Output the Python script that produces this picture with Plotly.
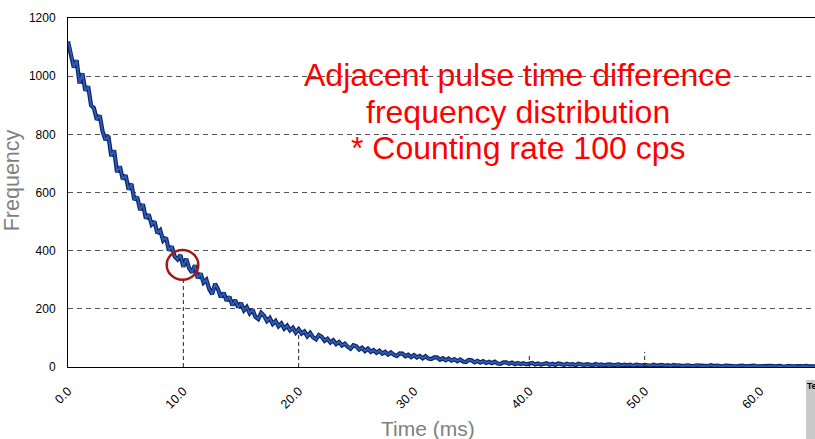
import plotly.graph_objects as go

# Frequency values, one every 0.25 ms from 0 to 65 ms
freq = [
    1119, 1080, 1030, 1055,
    975, 1010, 950, 965,
    900, 890, 850, 865,
    810, 780, 795, 725,
    745, 670, 690, 645,
    660, 610, 630, 575,
    585, 540, 560, 510,
    525, 490, 500, 460,
    470, 435, 445, 400,
    415, 380, 370, 385,
    345, 372, 340, 325,
    350, 305, 322, 290,
    300, 268, 250, 286,
    268, 240, 255, 228,
    242, 212, 230, 205,
    220, 195, 206, 185,
    198, 172, 165, 186,
    176, 158, 168, 148,
    158, 140, 150, 132,
    142, 126, 135, 118,
    130, 115, 122, 106,
    117, 102, 95, 110,
    104, 90, 97, 84,
    92, 79, 86, 74,
    80, 70, 63, 75,
    71, 60, 66, 55,
    63, 52, 58, 49,
    56, 46, 52, 43,
    50, 42, 38, 47,
    46, 37, 42, 34,
    41, 33, 38, 30,
    37, 29, 27, 33,
    33, 25, 30, 23,
    29, 22, 27, 20,
    26, 19, 17, 24,
    23, 16, 21, 15,
    20, 14, 18, 13,
    18, 12, 11, 16,
    16, 11, 15, 10,
    14, 10, 13, 9,
    11,
    14, 9, 12, 8, 11, 13, 8, 11, 7, 12, 10, 7, 11, 8, 10, 6, 11, 9, 7, 10,
    9, 6, 10, 7, 9, 5, 8, 9, 6, 7, 9, 5, 8, 6, 8, 4, 8, 7, 5, 7,
    7, 4, 8, 5, 6, 7, 4, 6, 3, 7, 5, 6, 3, 5, 6, 4, 3, 6, 5, 3,
    5, 3, 6, 3, 5, 4, 2, 5, 4, 3, 5, 2, 4, 5, 2, 4, 3, 5, 2, 3,
    4, 2, 3, 4, 2, 3, 4, 1, 3, 4, 2, 3, 1, 3, 2, 4, 2, 1, 3, 2,
]
time_step = 0.25
time_ms = [i * time_step for i in range(len(freq))]

x_ticks = [0, 10, 20, 30, 40, 50, 60]
x_tick_labels = ["0.0", "10.0", "20.0", "30.0", "40.0", "50.0", "60.0"]
y_ticks = [0, 200, 400, 600, 800, 1000, 1200]

# Marker lines (time, height) and highlight circle
marker_times = [10, 20, 40, 50]
marker_heights = [300, 122, 40, 52]
circle_center = (9.93, 351)

title_lines = [
    "Adjacent pulse time difference",
    "frequency distribution",
    "* Counting rate 100 cps",
]
title_y = [1004, 878, 753]

fig = go.Figure()
fig.add_trace(go.Scatter(x=time_ms, y=freq, mode="lines",
                         line=dict(color="#0B2566", width=4.2), hoverinfo="skip",
                         showlegend=False))
fig.add_trace(go.Scatter(x=time_ms, y=freq, mode="lines",
                         line=dict(color="#2F5DB5", width=1.8),
                         showlegend=False))

shapes = []
for t, h in zip(marker_times, marker_heights):
    shapes.append(dict(type="line", xref="x", yref="y", x0=t, x1=t, y0=0, y1=h,
                       line=dict(color="#222222", width=1, dash="4px,3px")))
cx, cy = circle_center
shapes.append(dict(type="circle", xref="x", yref="y",
                   x0=cx - 1.37, x1=cx + 1.37, y0=cy - 51, y1=cy + 51,
                   line=dict(color="#A31818", width=2.5)))
# grey box at bottom-right corner
shapes.append(dict(type="rect", xref="paper", yref="paper",
                   x0=0.988, x1=1.0, y0=-0.21, y1=-0.037,
                   fillcolor="#C9C9C9", line=dict(width=0), layer="above"))

annotations = []
for txt, yy in zip(title_lines, title_y):
    annotations.append(dict(text=txt, x=39.0, y=yy, xref="x", yref="y",
                            showarrow=False, xanchor="center", yanchor="middle",
                            font=dict(family="Liberation Sans, Arial", size=32,
                                      color="#FF0000")))
annotations.append(dict(text="Frequency", x=-0.075, y=0.535, xref="paper",
                        yref="paper", textangle=-90, showarrow=False,
                        xanchor="center", yanchor="middle",
                        font=dict(family="Liberation Sans, Arial", size=21.5,
                                  color="#7F7F7F")))
annotations.append(dict(text="Time (ms)", x=0.482, y=-0.175, xref="paper",
                        yref="paper", showarrow=False,
                        xanchor="center", yanchor="middle",
                        font=dict(family="Liberation Sans, Arial", size=21,
                                  color="#7F7F7F")))
annotations.append(dict(text="<b>Te</b>", x=0.987, y=-0.034, xref="paper",
                        yref="paper", showarrow=False,
                        xanchor="left", yanchor="top",
                        font=dict(family="Liberation Sans, Arial", size=8.5,
                                  color="#000000")))

fig.update_layout(
    width=815, height=439,
    margin=dict(l=68, r=0, t=18, b=72),
    plot_bgcolor="white", paper_bgcolor="white",
    shapes=shapes, annotations=annotations,
    xaxis=dict(range=[0, 64.77], tickvals=x_ticks, ticktext=x_tick_labels,
               tickangle=-45, showgrid=False, zeroline=False,
               showline=True, linecolor="#000000", linewidth=1, mirror=True,
               ticks="outside", ticklen=11, tickcolor="rgba(0,0,0,0)",
               tickfont=dict(family="Liberation Sans, Arial", size=12.5,
                             color="#000000")),
    yaxis=dict(range=[0, 1200], tickvals=y_ticks, showgrid=True,
               gridcolor="#555555", gridwidth=1, griddash="5px,4px",
               zeroline=False, showline=True, linecolor="#000000",
               linewidth=1, ticks="outside", ticklen=9,
               tickcolor="rgba(0,0,0,0)",
               tickfont=dict(family="Liberation Sans, Arial", size=12,
                             color="#000000")),
)

fig.write_html("out.html", config={"displayModeBar": False},
               post_script="document.body.style.margin='0px';")
